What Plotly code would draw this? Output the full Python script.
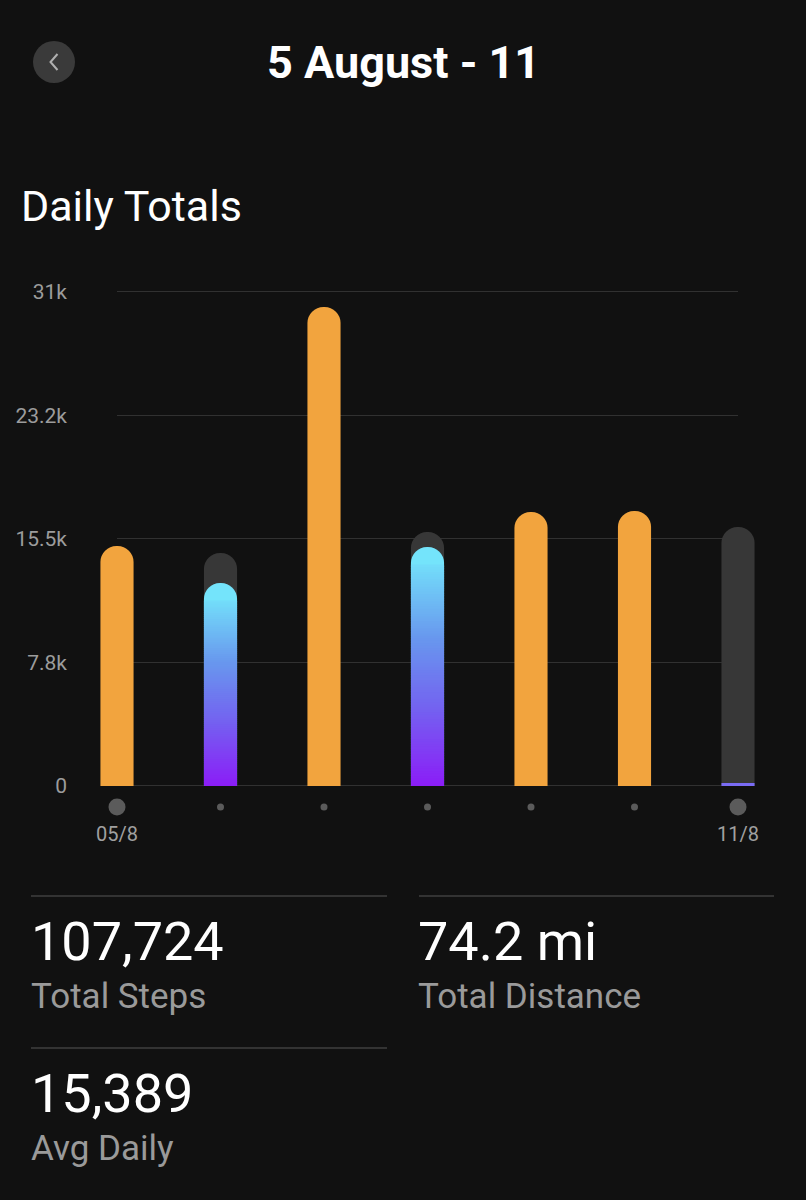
import plotly.graph_objects as go

# ---------------- data ----------------
days = ['05/8', '06/8', '07/8', '08/8', '09/8', '10/8', '11/8']
steps = [15060, 12740, 30060, 15000, 17190, 17260, 190]
goals = [None, 14620, None, 15940, None, None, 16250]
goal_met = [True, False, True, False, True, True, False]

y_tick_vals = [0, 7750, 15500, 23250, 31000]
y_tick_text = ['0', '7.8k', '15.5k', '23.2k', '31k']
x_label_idx = [0, 6]
x_label_text = ['05/8', '11/8']

title_text = '5 August - 11'
section_text = 'Daily Totals'
stat_values = ['107,724', '74.2 mi', '15,389']
stat_labels = ['Total Steps', 'Total Distance', 'Avg Daily']

# ---------------- style ----------------
W, H = 806, 1200
BG = '#111111'
ORANGE = '#F2A43E'
GOAL_GRAY = '#373737'
GRID = '#313131'
FONT = 'Roboto'
BAR_W = 0.32
RADIUS = 17
Y_MAX = 31000
X_LEFT_PX, X_STEP_PX = 117, 103.5
ZERO_PX, TOP_PX = 786, 292
K = (ZERO_PX - TOP_PX) / Y_MAX   # px per step
Y_TOP = 31100                    # a little headroom so the 31k grid line shows
Y_BOT = -3000                    # room under the axis for the day dots
GRAD_STOPS = [(0.0, (139, 29, 247)), (0.35, (115, 100, 240)),
              (0.65, (104, 152, 238)), (1.0, (116, 228, 251))]


def grad(t):
    t = max(0.0, min(1.0, t))
    for (t0, c0), (t1, c1) in zip(GRAD_STOPS[:-1], GRAD_STOPS[1:]):
        if t <= t1:
            f = (t - t0) / (t1 - t0) if t1 > t0 else 0
            c = [round(a + (b - a) * f) for a, b in zip(c0, c1)]
            return 'rgb(%d,%d,%d)' % tuple(c)
    return 'rgb(%d,%d,%d)' % GRAD_STOPS[-1][1]


def px(xp):
    return xp / W


def py(yp):
    return 1 - yp / H


def vpx(v):
    return ZERO_PX - v * K


idx = list(range(len(days)))
fig = go.Figure()

# dummy trace so the grid subplot exists
fig.add_trace(go.Scatter(x=[0], y=[0], mode='markers', marker=dict(opacity=0),
                         hoverinfo='skip', xaxis='x', yaxis='y'))

# goal (gray) bars behind
gi = [i for i in idx if goals[i] is not None]
fig.add_trace(go.Bar(x=gi, y=[goals[i] for i in gi], width=BAR_W,
                     marker=dict(color=GOAL_GRAY, line=dict(width=0), cornerradius=RADIUS),
                     xaxis='x2', yaxis='y2', hoverinfo='skip'))

# goal-met bars (orange)
oi = [i for i in idx if goal_met[i]]
fig.add_trace(go.Bar(x=oi, y=[steps[i] for i in oi], width=BAR_W,
                     marker=dict(color=ORANGE, line=dict(width=0), cornerradius=RADIUS),
                     xaxis='x2', yaxis='y2', hoverinfo='skip'))

# below-goal bars: gradient (own overlaid axes so rounding is not suppressed)
CAP = 1100  # data units kept for the rounded cap
N = 90
bi = [i for i in idx if not goal_met[i] and steps[i] > 2 * CAP]
fig.add_trace(go.Bar(x=bi, y=[steps[i] for i in bi], width=BAR_W,
                     marker=dict(color=grad(1.0), line=dict(width=0), cornerradius=RADIUS),
                     xaxis='x2', yaxis='y3', hoverinfo='skip'))
sx, sy, sb, sc = [], [], [], []
for i in bi:
    v = steps[i]
    h = (v - CAP) / N
    for k in range(N):
        sx.append(i)
        sb.append(k * h)
        sy.append(h * 1.6 if k < N - 1 else h)
        sc.append(grad((k + 0.5) / N * 0.97))
fig.add_trace(go.Bar(x=sx, y=sy, base=sb, width=BAR_W,
                     marker=dict(color=sc, line=dict(width=0)),
                     xaxis='x2', yaxis='y4', hoverinfo='skip'))
ti = [i for i in idx if not goal_met[i] and steps[i] <= 2 * CAP]
fig.add_trace(go.Bar(x=ti, y=[steps[i] for i in ti], width=BAR_W,
                     marker=dict(color='rgb(122,108,244)', line=dict(width=0)),
                     xaxis='x2', yaxis='y4', hoverinfo='skip'))

# day dots under the axis
DOT_Y = -(807 - ZERO_PX) / K
fig.add_trace(go.Scatter(x=idx, y=[DOT_Y] * len(idx), mode='markers', cliponaxis=False,
                         marker=dict(color='#7a7a7a',
                                     size=[17 if i in x_label_idx else 7 for i in idx],
                                     line=dict(width=0)),
                         xaxis='x2', yaxis='y2', hoverinfo='skip'))

grid_dom = [py(ZERO_PX), py(vpx(Y_TOP))]
bar_dom = [py(vpx(Y_BOT)), py(vpx(Y_TOP))]
hidden_y = dict(range=[Y_BOT, Y_TOP], visible=False, fixedrange=True, automargin=False)
fig.update_layout(
    template=None,
    width=W, height=H, margin=dict(l=0, r=0, t=0, b=0, pad=0, autoexpand=False),
    paper_bgcolor=BG, plot_bgcolor='rgba(0,0,0,0)', showlegend=False,
    barmode='overlay',
    font=dict(family=FONT, color='white'),
    xaxis=dict(domain=[px(117), px(738)], range=[0, 6], anchor='y', automargin=False,
               tickvals=x_label_idx, ticktext=x_label_text,
               showgrid=False, zeroline=False, showline=False, ticks='',
               tickfont=dict(family=FONT, size=20, color='#a0a0a0'),
               ticklabelstandoff=34, fixedrange=True),
    yaxis=dict(domain=grid_dom, range=[0, Y_TOP], anchor='x', tickvals=y_tick_vals,
               ticktext=y_tick_text, showgrid=True, gridcolor=GRID, gridwidth=1,
               zeroline=True, zerolinecolor=GRID, zerolinewidth=1, showline=False,
               ticks='', tickfont=dict(family=FONT, size=21, color='#9c9c9c'),
               ticklabelstandoff=49, fixedrange=True, automargin=False),
    xaxis2=dict(domain=[0, 1],
                range=[-X_LEFT_PX / X_STEP_PX, (W - X_LEFT_PX) / X_STEP_PX],
                anchor='y2', visible=False, fixedrange=True, automargin=False),
    yaxis2=dict(domain=bar_dom, anchor='x2', **hidden_y),
    yaxis3=dict(overlaying='y2', anchor='x2', **hidden_y),
    yaxis4=dict(overlaying='y2', anchor='x2', **hidden_y),
)

shapes = [
    dict(type='circle', xref='paper', yref='paper', x0=px(33), x1=px(75),
         y0=py(83), y1=py(41), fillcolor='#3a3a3a', line=dict(width=0), layer='below'),
    dict(type='path', xref='paper', yref='paper',
         path='M %f,%f L %f,%f L %f,%f' % (px(57.5), py(54), px(50.5), py(62), px(57.5), py(70)),
         line=dict(color='#b0b0b0', width=2)),
    dict(type='line', xref='paper', yref='paper', x0=px(31), x1=px(387), y0=py(896), y1=py(896),
         line=dict(color='#333333', width=2)),
    dict(type='line', xref='paper', yref='paper', x0=px(419), x1=px(774), y0=py(896), y1=py(896),
         line=dict(color='#333333', width=2)),
    dict(type='line', xref='paper', yref='paper', x0=px(31), x1=px(387), y0=py(1048), y1=py(1048),
         line=dict(color='#333333', width=2)),
]
fig.update_layout(shapes=shapes)

ann = [
    dict(text='<b>%s</b>' % title_text, x=0.5, y=py(63), xanchor='center', yanchor='middle',
         font=dict(size=45, color='white', family=FONT)),
    dict(text=section_text, x=px(19), y=py(206), xanchor='left', yanchor='middle',
         font=dict(size=43, color='white', family=FONT)),
]
stat_pos = [(29, 941, 996), (416, 941, 996), (29, 1093, 1148)]
for (xp, yv, yl), v, l in zip(stat_pos, stat_values, stat_labels):
    ann.append(dict(text=v, x=px(xp), y=py(yv), xanchor='left', yanchor='middle',
                    font=dict(size=54, color='white', family=FONT)))
    ann.append(dict(text=l, x=px(xp), y=py(yl), xanchor='left', yanchor='middle',
                    font=dict(size=35, color='#9a9a9a', family=FONT)))
for a in ann:
    a.update(xref='paper', yref='paper', showarrow=False)
fig.update_layout(annotations=ann)

fig.write_html('out.html', config=dict(displayModeBar=False))
